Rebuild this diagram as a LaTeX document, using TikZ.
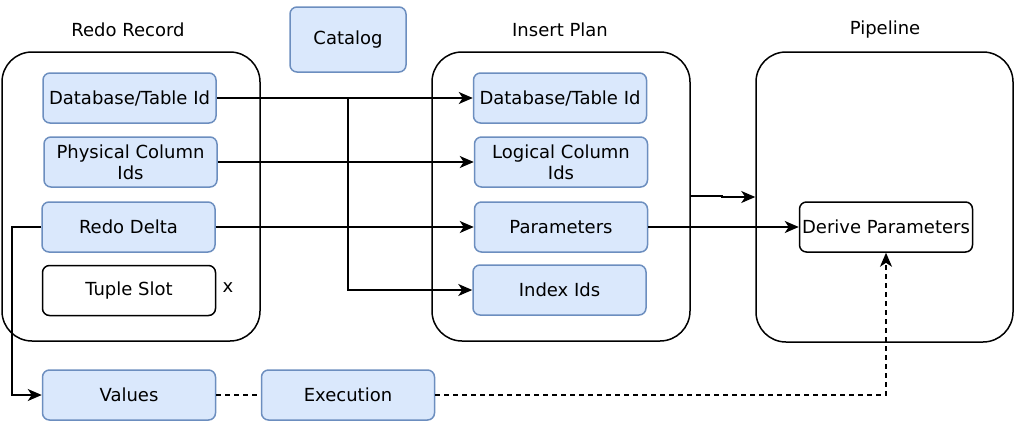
\documentclass[tikz,border=0pt]{standalone}
\usepackage{fontspec}
\setmainfont{DejaVu Sans}
\usetikzlibrary{arrows.meta}
\definecolor{bfill}{HTML}{DAE8FC}
\definecolor{bdraw}{HTML}{6C8EBF}
\begin{document}
\begin{tikzpicture}[x=1pt,y=-1pt,
  every node/.style={font=\fontsize{18}{21}\selectfont, inner sep=1pt},
  container/.style={draw=black, line width=1.5pt, rounded corners=30pt, fill=white},
  bluebox/.style={draw=bdraw, fill=bfill, line width=1.5pt, rounded corners=7pt, minimum width=173pt, minimum height=50pt, align=center},
  whitebox/.style={draw=black, fill=white, line width=1.5pt, rounded corners=7pt, minimum width=173pt, minimum height=50pt, align=center},
  tip/.style={-{Stealth[length=14pt,width=12pt,inset=4pt]}},
  conn/.style={draw=black, line width=1.5pt, tip},
  dashconn/.style={draw=black, line width=1.5pt, dash pattern=on 4.5pt off 4.5pt}
]
\useasboundingbox (0,0) rectangle (1014,423);
% containers
\node[container, minimum width=258pt, minimum height=289pt] (redo) at (131,196.5) {};
\node[container, minimum width=258pt, minimum height=289pt] (plan) at (561,196.5) {};
\node[container, minimum width=257pt, minimum height=290pt] (pipe) at (884.5,197) {};
% labels
\node (lredo) at (128,30) {Redo Record};
\node (lplan) at (560,30) {Insert Plan};
\node (lpipe) at (885,30) {Pipeline};
% catalog
\node[bluebox, minimum width=116pt, minimum height=65pt] (cat) at (348,39.5) {Catalog};
% left boxes
\node[bluebox] (db1) at (129.5,98) {Database/Table Id};
\node[bluebox] (phys) at (130.5,162) {Physical Column\\Ids};
\node[bluebox] (delta) at (128.5,227) {Redo Delta};
\node[whitebox] (tuple) at (129,290.5) {Tuple Slot};
\node (x) at (228,288) {x};
% plan boxes
\node[bluebox] (db2) at (560,98) {Database/Table Id};
\node[bluebox] (logic) at (561,162) {Logical Column\\Ids};
\node[bluebox] (param) at (561,227) {Parameters};
\node[bluebox] (idx) at (559.5,290) {Index Ids};
% pipeline
\node[whitebox] (derive) at (886,227) {Derive Parameters};
% bottom
\node[bluebox] (vals) at (129,395) {Values};
\node[bluebox] (exec) at (348,395) {Execution};
% connectors
\draw[conn] (db1.east) -- (db2.west);
\coordinate (br) at (348,98);
\draw[conn] (br) -- (348,290) -- (idx.west);
\draw[conn] (phys.east) -- (logic.west);
\draw[conn] (delta.east) -- (param.west);
\draw[conn] (param.east) -- (derive.west);
\draw[conn] (plan.east |- 0,196) -- (722,196) -- (722,197) -- (pipe.west);
\draw[conn] (delta.west) -- (12,227) -- (12,395) -- (vals.west);
\draw[dashconn] (vals.east) -- (exec.west);
\draw[dashconn, tip] (exec.east) -- (886,395) -- (derive.south);
\end{tikzpicture}
\end{document}
